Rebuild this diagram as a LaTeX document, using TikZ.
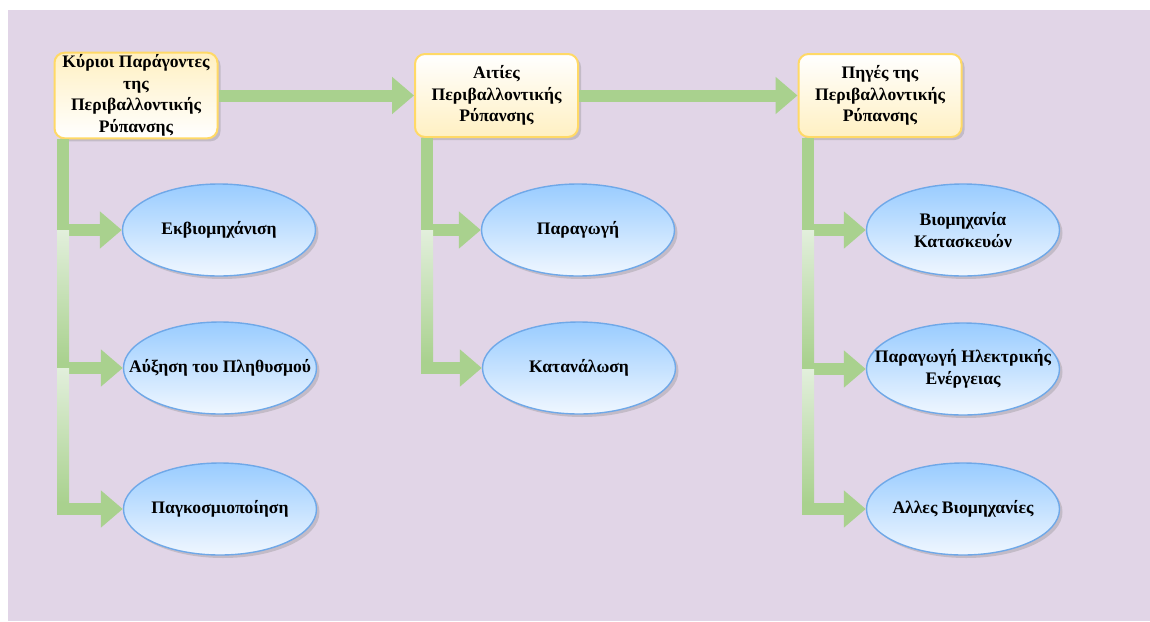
\documentclass[tikz,border=0pt]{standalone}
\usepackage{fontspec}
\setmainfont{Liberation Serif}
\usepackage{xcolor}
\usetikzlibrary{arrows.meta,positioning,shapes.geometric,shadows}
\definecolor{lavender}{HTML}{E1D5E7}
\definecolor{goldline}{HTML}{FFD966}
\definecolor{cream}{HTML}{FFF0C2}
\definecolor{skyblue}{HTML}{99CCFF}
\definecolor{paleblue}{HTML}{F0F7FF}
\definecolor{blueline}{HTML}{6FA8E8}
\definecolor{leaf}{HTML}{A9D18E}
\definecolor{paleleaf}{HTML}{E2EFDC}
\tikzset{
  lbl/.style={font=\fontsize{8.8pt}{10.8pt}\selectfont\bfseries,align=center,text=black},
  headbox/.style={lbl,draw=goldline,line width=1pt,rounded corners=5pt,
                  top color=white,bottom color=cream,
                  minimum width=81.5pt,minimum height=41.5pt,inner sep=1pt,
                  drop shadow={shadow xshift=1.5pt,shadow yshift=-1.5pt,opacity=0.3,fill=gray}},
  leafnode/.style={lbl,ellipse,draw=blueline,line width=0.7pt,
                   top color=skyblue,bottom color=paleblue,
                   minimum width=96.5pt,minimum height=46pt,inner xsep=-14pt,inner ysep=0pt,
                   drop shadow={shadow xshift=1.5pt,shadow yshift=-1.5pt,opacity=0.3,fill=gray}},
  conn/.style={draw=leaf,line width=6pt,-{Triangle[length=11pt,width=18pt]}},
  fade/.style={top color=paleleaf,bottom color=leaf}
}
\begin{document}
\begin{tikzpicture}[x=0.5pt,y=-0.5pt]
  \useasboundingbox (0,0) rectangle (1150,621);
  \fill[lavender] (8,10) rectangle (1150,621);
  % heads
  \node[headbox,top color=cream,bottom color=white] (k1) at (136,95.5) {Κύριοι Παράγοντες\\της\\Περιβαλλοντικής\\Ρύπανσης};
  \node[headbox] (k2) at (496.5,95.5) {Αιτίες\\Περιβαλλοντικής\\Ρύπανσης};
  \node[headbox] (k3) at (880,95.5) {Πηγές της\\Περιβαλλοντικής\\Ρύπανσης};
  % leaves
  \node[leafnode] (e11) at (219,230) {Εκβιομηχάνιση};
  \node[leafnode] (e12) at (220,368) {Αύξηση του Πληθυσμού};
  \node[leafnode] (e13) at (220,509) {Παγκοσμιοποίηση};
  \node[leafnode] (e21) at (578,230) {Παραγωγή};
  \node[leafnode] (e22) at (579,368) {Κατανάλωση};
  \node[leafnode] (e31) at (963,230) {Βιομηχανία\\Κατασκευών};
  \node[leafnode] (e32) at (963,369) {Παραγωγή Ηλεκτρικής\\Ενέργειας};
  \node[leafnode] (e33) at (963,509) {Αλλες Βιομηχανίες};
  % connectors
  \draw[conn] (k1.east) -- (k2.west);
  \draw[conn] (k2.east) -- (k3.west);
  \foreach \k/\x/\list in {k1/63/{e13,e12,e11},k2/427/{e22,e21},k3/808/{e33,e32,e31}}{
    \foreach \e in \list
      \draw[conn] (\k.south -| \x,0) |- (\e.west);
  }
  % lighter stem parts
  \foreach \x/\ya/\yb in {63/230/362,63/368/503,427/230/362,808/230/363,808/369/503}
    \shade[fade] (\x-6,\ya) rectangle (\x+6,\yb);
\end{tikzpicture}
\end{document}
